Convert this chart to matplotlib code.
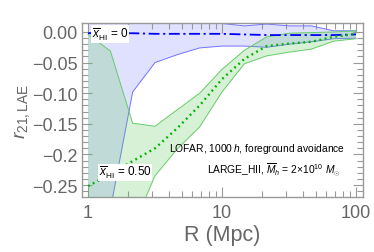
import numpy as np
import matplotlib
matplotlib.use("Agg")
import matplotlib.pyplot as plt
from matplotlib.ticker import FixedLocator, NullFormatter

# R bins (6 per decade, 1 .. 100 Mpc)
R = [1.0, 1.468, 2.154, 3.162, 4.642, 6.813, 10.0, 14.68, 21.54, 31.62, 46.42, 68.13, 100.0]

# x_HI = 0 (blue)
blue_mid = [-0.002, -0.002, -0.002, -0.003, -0.003, -0.003, -0.003, -0.004, -0.005, -0.005, -0.005, -0.005, -0.004]
blue_hi = [0.02, 0.02, 0.02, 0.02, 0.02, 0.02, 0.014, 0.010, 0.013, 0.010, 0.010, 0.002, 0.002]
blue_lo = [-0.50, -0.29, -0.098, -0.050, -0.037, -0.026, -0.023, -0.023, -0.025, -0.020, -0.016, -0.011, -0.010]

# x_HI = 0.50 (green)
green_mid = [-0.252, -0.232, -0.211, -0.190, -0.157, -0.120, -0.077, -0.044, -0.023, -0.019, -0.016, -0.008, -0.003]
green_hi = [-0.004, -0.031, -0.149, -0.154, -0.127, -0.100, -0.061, -0.030, -0.008, -0.002, -0.001, 0.000, 0.002]
green_lo = [-0.60, -0.45, -0.32, -0.235, -0.191, -0.155, -0.098, -0.052, -0.039, -0.033, -0.028, -0.015, -0.011]

ytick_vals = [0.0, -0.05, -0.10, -0.15, -0.2, -0.25]
ytick_labels = ["0.00", "\u22120.05", "\u22120.10", "\u22120.15", "\u22120.2", "\u22120.25"]
xtick_vals = [1, 10, 100]
xtick_labels = ["1", "10", "100"]

plt.rcParams['font.family'] = ['Liberation Sans', 'DejaVu Sans']
plt.rcParams['mathtext.fontset'] = 'custom'
plt.rcParams['mathtext.rm'] = 'Liberation Sans'
plt.rcParams['mathtext.it'] = 'Liberation Sans:italic'
plt.rcParams['mathtext.bf'] = 'Liberation Sans:bold'
plt.rcParams['mathtext.fallback'] = 'cm'

fig = plt.figure(figsize=(3.74, 2.53), dpi=100)
ax = fig.add_axes([0.2193, 0.2174, 0.9706 - 0.2193, 0.9032 - 0.2174])

ax.fill_between(R, blue_lo, blue_hi, color=(0.4, 0.4, 1.0), alpha=0.2, lw=0, zorder=1)
ax.plot(R, blue_lo, color=(0.45, 0.45, 1.0), lw=0.7, zorder=2)
ax.plot(R, blue_hi, color=(0.45, 0.45, 1.0), lw=0.7, zorder=2)

ax.fill_between(R, green_lo, green_hi, color=(0.35, 0.78, 0.35), alpha=0.24, lw=0, zorder=3)
ax.plot(R, green_lo, color=(0.4, 0.8, 0.4), lw=0.7, zorder=4)
ax.plot(R, green_hi, color=(0.4, 0.8, 0.4), lw=0.7, zorder=4)

ax.plot(R, blue_mid, color=(0.0, 0.0, 1.0), lw=1.3, dashes=(6, 2, 1.2, 2), zorder=5)
ax.plot(R, green_mid, color=(0.0, 0.7, 0.0), lw=1.7, linestyle=(0, (0.8, 1.5)), zorder=5)

ax.set_xscale('log')
ax.set_xlim(0.902, 112.8)
ax.set_ylim(-0.2696, 0.0139)

ax.xaxis.set_major_locator(FixedLocator(xtick_vals))
ax.set_xticklabels(xtick_labels)
ax.xaxis.set_minor_locator(FixedLocator([k * 10**d for d in range(0, 2) for k in range(2, 10)]))
ax.xaxis.set_minor_formatter(NullFormatter())
ax.yaxis.set_major_locator(FixedLocator(ytick_vals))
ax.set_yticklabels(ytick_labels)
ax.yaxis.set_minor_locator(FixedLocator([-0.01 * k for k in range(0, 28) if k % 5 != 0]))

gray = (0.6, 0.6, 0.6)
for s in ax.spines.values():
    s.set_color(gray)
    s.set_linewidth(1.0)
ax.tick_params(which='both', direction='in', top=True, right=True, color=gray,
               labelcolor=(0.4, 0.4, 0.4), labelsize=13, width=0.8)
ax.tick_params(which='major', length=7)
ax.tick_params(which='minor', length=4)
ax.tick_params(axis='x', pad=5)
ax.tick_params(axis='y', pad=3)

ax.set_xlabel("R (Mpc)", fontsize=15.5, color=(0.4, 0.4, 0.4), labelpad=2)
ax.set_ylabel(r"$r_{21,\mathrm{LAE}}$", fontsize=14, color=(0.4, 0.4, 0.4), labelpad=0)

bbox = dict(facecolor='white', edgecolor='none', pad=0.6)
ax.text(1.07, -0.0035, r"$\overline{x}_{\mathrm{HI}}$ = 0", fontsize=8.5, va='center', ha='left',
        bbox=bbox, zorder=6)
ax.text(1.2, -0.2295, r"$\overline{x}_{\mathrm{HI}}$ = 0.50", fontsize=8.5, va='center', ha='left',
        bbox=bbox, zorder=6)

ax.text(0.937, 0.28, r"LOFAR, 1000$\,h$, foreground avoidance", transform=ax.transAxes,
        fontsize=7.4, ha='right', va='center', zorder=6)
ax.text(0.92, 0.165, r"LARGE_HII, $\overline{M}_h$ = 2$\times$10$^{10}$ $M_{\odot}$", transform=ax.transAxes,
        fontsize=7.4, ha='right', va='center', zorder=6)

fig.savefig("out.png", dpi=100)
